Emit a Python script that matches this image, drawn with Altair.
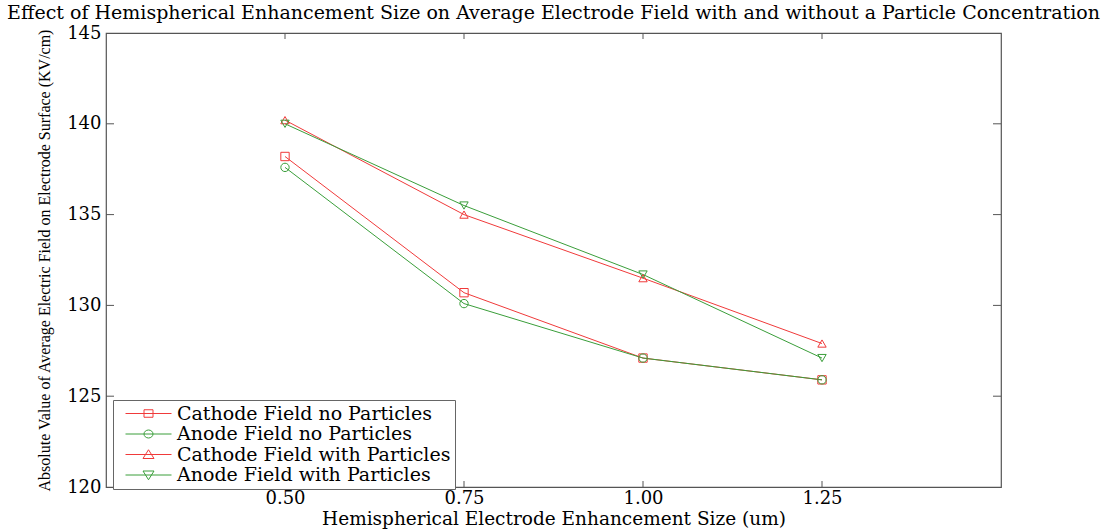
import altair as alt
import pandas as pd

# Enhancement sizes (um) and average electrode field magnitudes (KV/cm)
sizes = [0.50, 0.75, 1.00, 1.25]
cathode_no_particles = [138.2, 130.7, 127.1, 125.9]
anode_no_particles = [137.6, 130.1, 127.1, 125.9]
cathode_with_particles = [140.2, 135.0, 131.5, 127.9]
anode_with_particles = [140.0, 135.5, 131.7, 127.1]

series_names = [
    "Cathode Field no Particles",
    "Anode Field no Particles",
    "Cathode Field with Particles",
    "Anode Field with Particles",
]
series_values = [cathode_no_particles, anode_no_particles,
                 cathode_with_particles, anode_with_particles]
series_colors = ["#f03a3a", "#3a9e3a", "#f03a3a", "#3a9e3a"]
marker_shapes = ["square", "circle", "triangle-up", "triangle-down"]

# Legend glyphs: a short line segment with the series marker on top of it
legend_paths = [
    "M-4.6,0H4.6M-0.9,-0.75H0.9V0.75H-0.9Z",
    "M-4.6,0H4.6M-0.9,0A0.9,0.8 0 1,0 0.9,0A0.9,0.8 0 1,0 -0.9,0Z",
    "M-4.6,0H4.6M0,-0.95L1.1,0.8H-1.1Z",
    "M-4.6,0H4.6M0,0.95L1.1,-0.8H-1.1Z",
]

x_ticks = [0.50, 0.75, 1.00, 1.25]
y_ticks = [120, 125, 130, 135, 140, 145]
y_inner_ticks = [125, 130, 135, 140]

rows = []
for name, vals in zip(series_names, series_values):
    for s, v in zip(sizes, vals):
        rows.append({"series": name, "size": s, "field": v})
df = pd.DataFrame(rows)

W, H = 895, 454
SERIF = "DejaVu Serif"

x_enc = alt.X(
    "size:Q",
    scale=alt.Scale(domain=[0.25, 1.5], nice=False, zero=False),
    axis=alt.Axis(values=x_ticks, format=".2f",
                  title="Hemispherical Electrode Enhancement Size (um)",
                  titleFontSize=18.5, titlePadding=2, labelPadding=2),
)
y_enc = alt.Y(
    "field:Q",
    scale=alt.Scale(domain=[120, 145], nice=False, zero=False),
    axis=alt.Axis(values=y_ticks, format="d",
                  title="Absolute Value of Average Electric Field on Electrode Surface (KV/cm)",
                  titleFont="Liberation Serif", titleFontSize=16,
                  titlePadding=14, labelPadding=5),
)

color_scale = alt.Scale(domain=series_names, range=series_colors)

lines = alt.Chart(df).mark_line(strokeWidth=1).encode(
    x=x_enc, y=y_enc,
    color=alt.Color("series:N", scale=color_scale, legend=None),
    detail="series:N",
)

points = alt.Chart(df).mark_point(filled=False, size=70, strokeWidth=1, opacity=1).encode(
    x="size:Q", y="field:Q",
    color=alt.Color("series:N", scale=color_scale, legend=None),
    shape=alt.Shape("series:N", scale=alt.Scale(domain=series_names, range=marker_shapes),
                    legend=None),
)

legend_layer = alt.Chart(df).mark_point(filled=False, opacity=0, size=100).encode(
    x="size:Q", y="field:Q",
    color=alt.Color("series:N", scale=color_scale, title=None,
                    legend=alt.Legend(orient="none", legendX=7, legendY=367,
                                      padding=4, symbolOffset=22, labelOffset=19,
                                      symbolSize=100, symbolStrokeWidth=1,
                                      rowPadding=0.5,
                                      labelFont=SERIF, labelFontSize=19,
                                      labelColor="#000", labelLimit=500,
                                      strokeColor="#666", fillColor="white",
                                      cornerRadius=0)),
    shape=alt.Shape("series:N", scale=alt.Scale(domain=series_names, range=legend_paths),
                    title=None, legend=alt.Legend(orient="none", legendX=7, legendY=367)),
)

# Inward tick marks on all four sides of the frame
xt = pd.DataFrame({"size": x_ticks})
yt = pd.DataFrame({"field": y_inner_ticks})
tick_style = dict(color="#555", strokeWidth=1)
x_bottom = alt.Chart(xt).mark_rule(**tick_style).encode(
    x="size:Q", y=alt.value(H), y2=alt.value(H - 6))
x_top = alt.Chart(xt).mark_rule(**tick_style).encode(
    x="size:Q", y=alt.value(0), y2=alt.value(6))
y_left = alt.Chart(yt).mark_rule(**tick_style).encode(
    y="field:Q", x=alt.value(0), x2=alt.value(8))
y_right = alt.Chart(yt).mark_rule(**tick_style).encode(
    y="field:Q", x=alt.value(W), x2=alt.value(W - 8))

chart = alt.layer(
    x_bottom, x_top, y_left, y_right, lines, points, legend_layer
).resolve_scale(
    color="independent", shape="independent"
).properties(
    width=W, height=H,
    autosize="none",
    padding={"left": 106, "top": 33, "right": 106, "bottom": 42},
    title=alt.TitleParams(
        "Effect of Hemispherical Enhancement Size on Average Electrode Field with and without a Particle Concentration",
        font=SERIF, fontSize=19, fontWeight="normal", color="#000", offset=1),
).configure_view(
    stroke="#555", strokeWidth=1.2
).configure_axis(
    grid=False, domain=False, ticks=False,
    labelFont=SERIF, labelFontSize=18, labelColor="#000",
    titleFont=SERIF, titleFontSize=18, titleFontWeight="normal", titleColor="#000",
)

chart.save("out.html", embed_options={"renderer": "svg", "actions": False})
